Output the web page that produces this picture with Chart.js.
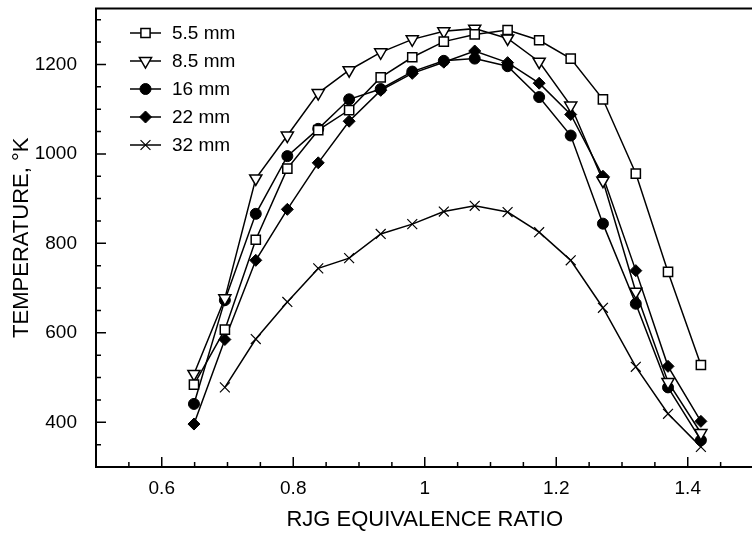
<!DOCTYPE html>
<html>
<head>
<meta charset="utf-8">
<script src="https://cdn.jsdelivr.net/npm/chart.js@4/dist/chart.umd.min.js"></script>
<style>
  html, body { margin: 0; padding: 0; background: #fff; overflow: hidden; width: 752px; height: 533px; }
  #wrap { width: 762px; height: 533px; }
</style>
</head>
<body>
<div id="wrap"><canvas id="c" width="762" height="533"></canvas></div>
<script>
// ---- data ----
const equivalenceRatio = [0.649, 0.696, 0.743, 0.791, 0.838, 0.885, 0.933, 0.981, 1.029, 1.076, 1.126, 1.174, 1.222, 1.271, 1.321, 1.37, 1.42];
const seriesNames = ['5.5 mm', '8.5 mm', '16 mm', '22 mm', '32 mm'];
const temp55 = [484, 607, 808, 967, 1053, 1098, 1171, 1216, 1251, 1267, 1277, 1254, 1213, 1122, 956, 736, 528];
const temp85 = [508, 677, 945, 1041, 1136, 1187, 1227, 1256, 1274, 1280, 1258, 1206, 1108, 940, 692, 490, 376];
const temp16 = [441, 673, 866, 995, 1056, 1122, 1145, 1184, 1208, 1213, 1196, 1127, 1041, 844, 665, 478, 360];
const temp22 = [396, 585, 762, 876, 980, 1073, 1142, 1180, 1205, 1230, 1204, 1158, 1088, 950, 739, 525, 402];
const temp32 = [null, 478, 586, 669, 744, 767, 821, 843, 871, 884, 870, 825, 762, 656, 524, 419, 345];
const xTickValues = [0.6, 0.8, 1.0, 1.2, 1.4];
const xTickLabels = ['0.6', '0.8', '1', '1.2', '1.4'];
const yTickValues = [400, 600, 800, 1000, 1200];
const yTickLabels = ['400', '600', '800', '1000', '1200'];

// ---- styles ----
const FONT = '"Liberation Sans", Arial, Helvetica, sans-serif';
const styles = [
  { pointStyle: 'rect', radius: 6.5, fill: '#fff', rotation: 0, bw: 1.5 },
  { pointStyle: 'triangle', radius: 7, fill: '#fff', rotation: 180, bw: 1.5 },
  { pointStyle: 'circle', radius: 5.5, fill: '#000', rotation: 0, bw: 1 },
  { pointStyle: 'rectRot', radius: 6, fill: '#000', rotation: 0, bw: 1 },
  { pointStyle: 'crossRot', radius: 7, fill: '#000', rotation: 0, bw: 1.2 }
];
const allSeries = [temp55, temp85, temp16, temp22, temp32];

function toPoints(ys) {
  const pts = [];
  ys.forEach((y, i) => { if (y !== null) pts.push({ x: equivalenceRatio[i], y: y }); });
  return pts;
}

const datasets = allSeries.map((ys, k) => ({
  label: seriesNames[k],
  data: toPoints(ys),
  borderColor: '#000',
  borderWidth: 1.5,
  pointStyle: styles[k].pointStyle,
  pointRadius: styles[k].radius,
  pointRotation: styles[k].rotation,
  pointBackgroundColor: styles[k].fill,
  pointBorderColor: '#000',
  pointBorderWidth: styles[k].bw,
  fill: false,
  tension: 0
}));

// frame, inward ticks and in-plot legend
const framePlugin = {
  id: 'frame',
  afterDatasetsDraw(chart) {
    const ctx = chart.ctx;
    const a = chart.chartArea;
    const xs = chart.scales.x, ys = chart.scales.y;
    ctx.save();
    ctx.strokeStyle = '#000';
    ctx.lineWidth = 2;
    ctx.beginPath();
    ctx.moveTo(a.left - 1, a.top);
    ctx.lineTo(a.right + 10, a.top);
    ctx.stroke();
    ctx.lineWidth = 1.5;
    ctx.beginPath();
    // x ticks (inward)
    for (let v = 0.55; v < 1.5; v += 0.05) {
      const vv = Math.round(v * 100) / 100;
      const major = xTickValues.some(t => Math.abs(t - vv) < 1e-6);
      const px = xs.getPixelForValue(vv);
      ctx.moveTo(px, a.bottom);
      ctx.lineTo(px, a.bottom - (major ? 10 : 5));
    }
    // y ticks (inward)
    for (let v = 350; v <= 1300; v += 50) {
      const major = yTickValues.includes(v);
      const py = ys.getPixelForValue(v);
      ctx.moveTo(a.left, py);
      ctx.lineTo(a.left + (major ? 10 : 5), py);
    }
    ctx.stroke();

    // legend
    const rowY0 = 33, rowGap = 28;
    ctx.font = '19px ' + FONT;
    ctx.textBaseline = 'middle';
    ctx.textAlign = 'left';
    ctx.fillStyle = '#000';
    chart.data.datasets.forEach((ds, k) => {
      const y = rowY0 + k * rowGap;
      ctx.lineWidth = 1.5;
      ctx.strokeStyle = '#000';
      ctx.beginPath();
      ctx.moveTo(130, y);
      ctx.lineTo(161, y);
      ctx.stroke();
      ctx.fillStyle = styles[k].fill;
      ctx.lineWidth = styles[k].bw;
      Chart.helpers.drawPoint(ctx, {
        pointStyle: styles[k].pointStyle,
        radius: styles[k].radius,
        rotation: styles[k].rotation,
        borderWidth: styles[k].bw
      }, 145.5, y);
      ctx.fillStyle = '#000';
      ctx.fillText(ds.label, 172, y + 1);
    });
    ctx.restore();
  }
};

new Chart(document.getElementById('c'), {
  type: 'line',
  data: { datasets: datasets },
  options: {
    responsive: false,
    animation: false,
    layout: { padding: { top: 5, right: 1, left: 0, bottom: 0 } },
    plugins: { legend: { display: false }, tooltip: { enabled: false } },
    scales: {
      x: {
        type: 'linear',
        min: 0.5,
        max: 1.5,
        afterBuildTicks: (s) => { s.ticks = xTickValues.map(v => ({ value: v })); },
        afterFit: (s) => { s.height = 66; s.paddingLeft = 0; s.paddingRight = 0; },
        grid: { display: false },
        border: { display: true, color: '#000', width: 2 },
        ticks: {
          color: '#000',
          font: { family: FONT, size: 19 },
          padding: 2,
          maxRotation: 0,
          callback: (v) => { const i = xTickValues.findIndex(t => Math.abs(t - v) < 1e-6); return i >= 0 ? xTickLabels[i] : ''; }
        },
        title: {
          display: true,
          text: 'RJG EQUIVALENCE RATIO',
          color: '#000',
          font: { family: FONT, size: 22 },
          padding: { top: 0, bottom: 0 }
        }
      },
      y: {
        type: 'linear',
        min: 300,
        max: 1325,
        afterBuildTicks: (s) => { s.ticks = yTickValues.map(v => ({ value: v })); },
        afterFit: (s) => { s.width = 96; s.paddingTop = 0; s.paddingBottom = 0; },
        grid: { display: false },
        border: { display: true, color: '#000', width: 2 },
        ticks: {
          color: '#000',
          font: { family: FONT, size: 19 },
          padding: 11,
          callback: (v) => { const i = yTickValues.indexOf(v); return i >= 0 ? yTickLabels[i] : ''; }
        },
        title: {
          display: true,
          text: 'TEMPERATURE, °K',
          color: '#000',
          font: { family: FONT, size: 22 },
          padding: { top: 9, bottom: 0 }
        }
      }
    }
  },
  plugins: [framePlugin]
});
</script>
</body>
</html>
